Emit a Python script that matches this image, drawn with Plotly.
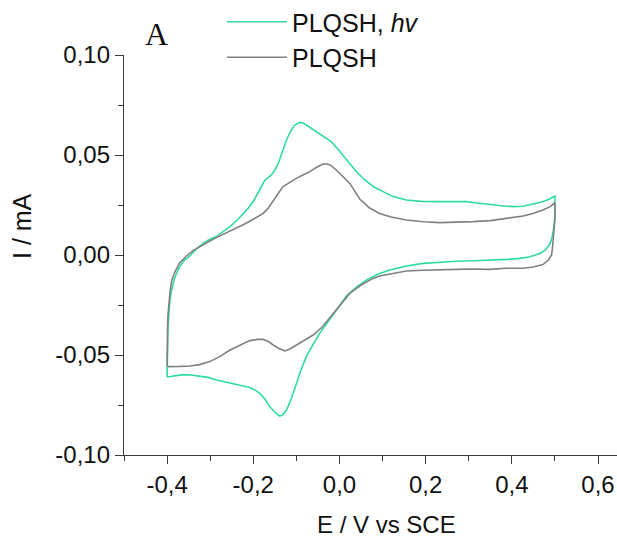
import plotly.graph_objects as go

# PLQSH, hv (green) : anodic sweep then cathodic sweep
E_hv_fwd = [-0.400, -0.399, -0.398, -0.396, -0.394, -0.390, -0.384, -0.375, -0.363, -0.345,
            -0.332, -0.315, -0.300, -0.285, -0.270, -0.254, -0.235, -0.212, -0.198, -0.185,
            -0.173, -0.158, -0.150, -0.142, -0.133, -0.123, -0.113, -0.104, -0.092, -0.085,
            -0.077, -0.062, -0.046, -0.030, -0.019, 0.000, 0.024, 0.040, 0.059, 0.080,
            0.101, 0.125, 0.155, 0.190, 0.233, 0.270, 0.295, 0.320, 0.349, 0.380,
            0.403, 0.426, 0.449, 0.465, 0.485, 0.500]
I_hv_fwd = [-0.0610, -0.0450, -0.0375, -0.0300, -0.0240, -0.0180, -0.0125, -0.0075, -0.0033, 0.0000,
            0.0030, 0.0060, 0.0080, 0.0093, 0.0115, 0.0142, 0.0180, 0.0233, 0.0275, 0.0325,
            0.0375, 0.0400, 0.0425, 0.0458, 0.0515, 0.0575, 0.0620, 0.0650, 0.0663, 0.0660,
            0.0650, 0.0628, 0.0605, 0.0585, 0.0567, 0.0520, 0.0458, 0.0415, 0.0375, 0.0340,
            0.0317, 0.0292, 0.0275, 0.0268, 0.0267, 0.0268, 0.0267, 0.0260, 0.0252, 0.0245,
            0.0242, 0.0244, 0.0255, 0.0262, 0.0278, 0.0295]
E_hv_rev = [0.500, 0.497, 0.493, 0.488, 0.478, 0.465, 0.440, 0.418, 0.390, 0.349,
            0.310, 0.271, 0.230, 0.194, 0.155, 0.117, 0.090, 0.063, 0.040, 0.016,
            -0.007, -0.025, -0.046, -0.062, -0.077, -0.090, -0.100, -0.112, -0.123, -0.132,
            -0.139, -0.148, -0.162, -0.173, -0.185, -0.198, -0.208, -0.228, -0.247, -0.265,
            -0.285, -0.305, -0.324, -0.345, -0.363, -0.385, -0.400]
I_hv_rev = [0.0200, 0.0130, 0.0085, 0.0055, 0.0025, 0.0008, -0.0010, -0.0017, -0.0022, -0.0027,
            -0.0029, -0.0031, -0.0036, -0.0042, -0.0055, -0.0075, -0.0095, -0.0125, -0.0160, -0.0205,
            -0.0275, -0.0330, -0.0392, -0.0450, -0.0508, -0.0580, -0.0642, -0.0720, -0.0775, -0.0800,
            -0.0805, -0.0790, -0.0758, -0.0720, -0.0692, -0.0672, -0.0662, -0.0653, -0.0645, -0.0635,
            -0.0625, -0.0612, -0.0605, -0.0600, -0.0598, -0.0603, -0.0610]

# PLQSH (gray)
E_dk_fwd = [-0.400, -0.400, -0.399, -0.398, -0.396, -0.393, -0.389, -0.381, -0.371, -0.355,
            -0.340, -0.320, -0.301, -0.275, -0.247, -0.220, -0.195, -0.177, -0.165, -0.154,
            -0.143, -0.131, -0.115, -0.100, -0.085, -0.069, -0.052, -0.038, -0.028, -0.019,
            -0.005, 0.010, 0.024, 0.047, 0.070, 0.093, 0.120, 0.155, 0.195, 0.233,
            0.270, 0.310, 0.350, 0.387, 0.426, 0.449, 0.472, 0.490, 0.500]
I_dk_fwd = [-0.0555, -0.0450, -0.0375, -0.0300, -0.0240, -0.0180, -0.0125, -0.0080, -0.0040, -0.0005,
            0.0022, 0.0048, 0.0070, 0.0098, 0.0125, 0.0155, 0.0185, 0.0208, 0.0235, 0.0267,
            0.0305, 0.0342, 0.0365, 0.0383, 0.0400, 0.0417, 0.0440, 0.0455, 0.0455, 0.0447,
            0.0420, 0.0390, 0.0358, 0.0280, 0.0235, 0.0208, 0.0190, 0.0175, 0.0166, 0.0162,
            0.0163, 0.0167, 0.0172, 0.0183, 0.0195, 0.0208, 0.0225, 0.0243, 0.0262]
E_dk_rev = [0.500, 0.498, 0.497, 0.494, 0.492, 0.485, 0.472, 0.450, 0.426, 0.387,
            0.349, 0.310, 0.270, 0.233, 0.194, 0.155, 0.120, 0.093, 0.078, 0.050,
            0.024, 0.000, -0.022, -0.040, -0.061, -0.080, -0.100, -0.115, -0.127, -0.140,
            -0.154, -0.165, -0.177, -0.190, -0.208, -0.230, -0.254, -0.278, -0.301, -0.325,
            -0.347, -0.370, -0.400]
I_dk_rev = [0.0180, 0.0110, 0.0075, 0.0030, 0.0000, -0.0025, -0.0048, -0.0060, -0.0066, -0.0066,
            -0.0072, -0.0070, -0.0072, -0.0073, -0.0076, -0.0080, -0.0092, -0.0105, -0.0117, -0.0150,
            -0.0192, -0.0255, -0.0308, -0.0360, -0.0400, -0.0425, -0.0450, -0.0470, -0.0480, -0.0468,
            -0.0450, -0.0432, -0.0422, -0.0422, -0.0428, -0.0450, -0.0475, -0.0508, -0.0533, -0.0548,
            -0.0555, -0.0557, -0.0558]

x_ticks = [-0.4, -0.2, 0.0, 0.2, 0.4, 0.6]
x_ticklabels = ["-0,4", "-0,2", "0,0", "0,2", "0,4", "0,6"]
y_ticks = [-0.10, -0.05, 0.00, 0.05, 0.10]
y_ticklabels = ["-0,10", "-0,05", "0,00", "0,05", "0,10"]

GREEN = "#2fdba3"
GRAY = "#808080"
AX = "#3a3a3a"
FONT = "Liberation Sans, Arial, sans-serif"

W, H = 617, 537

fig = go.Figure()
fig.add_trace(go.Scatter(x=E_hv_fwd + E_hv_rev, y=I_hv_fwd + I_hv_rev, mode="lines",
                         line=dict(color=GREEN, width=1.6),
                         name="PLQSH, <i>hv</i>"))
fig.add_trace(go.Scatter(x=E_dk_fwd + E_dk_rev, y=I_dk_fwd + I_dk_rev, mode="lines",
                         line=dict(color=GRAY, width=1.6),
                         name="PLQSH"))

axis_common = dict(showline=True, linecolor=AX, linewidth=1.3, ticks="outside",
                   tickcolor=AX, tickwidth=1.3, ticklen=8, showgrid=False, zeroline=False,
                   tickfont=dict(family=FONT, size=24, color="#111"), mirror=False,
                   automargin=False, ticklabeloverflow="allow")

fig.update_xaxes(range=[-0.5, 0.644], tickvals=x_ticks, ticktext=x_ticklabels,
                 minor=dict(tickvals=[-0.5, -0.3, -0.1, 0.1, 0.3, 0.5], ticklen=5,
                            tickcolor=AX, tickwidth=1.3, ticks="outside"),
                 **axis_common)
fig.update_yaxes(range=[-0.1, 0.1], tickvals=y_ticks, ticktext=y_ticklabels,
                 minor=dict(tickvals=[-0.075, -0.025, 0.025, 0.075], ticklen=5,
                            tickcolor=AX, tickwidth=1.3, ticks="outside"),
                 **axis_common)

fig.update_layout(
    width=W, height=H,
    margin=dict(l=124, r=0, t=55, b=82, autoexpand=False),
    paper_bgcolor="white", plot_bgcolor="white",
    font=dict(family=FONT, size=24, color="#111"),
    showlegend=True,
    legend=dict(x=(222 - 124) / 493, y=(455 + 1) / 400, xanchor="left", yanchor="top",
                bgcolor="rgba(0,0,0,0)", font=dict(family=FONT, size=25, color="#111"),
                itemwidth=60, tracegroupgap=0),
    annotations=[
        dict(text="E / V vs SCE", xref="paper", yref="paper",
             x=(386.5 - 124) / 493, y=(455 - 524) / 400, showarrow=False,
             xanchor="center", yanchor="middle", font=dict(family=FONT, size=24, color="#111")),
        dict(text="I / mA", xref="paper", yref="paper", textangle=-90,
             x=(22 - 124) / 493, y=(455 - 226) / 400, showarrow=False,
             xanchor="center", yanchor="middle", font=dict(family=FONT, size=25, color="#111")),
        dict(text="A", xref="paper", yref="paper",
             x=(156 - 124) / 493, y=(455 - 34) / 400, showarrow=False,
             xanchor="center", yanchor="middle",
             font=dict(family="Liberation Serif, Times New Roman, serif", size=32, color="#111")),
    ],
)

fig.write_html("out.html", config={"displayModeBar": False},
               post_script="document.body.style.margin='0';document.body.style.overflow='hidden';")
